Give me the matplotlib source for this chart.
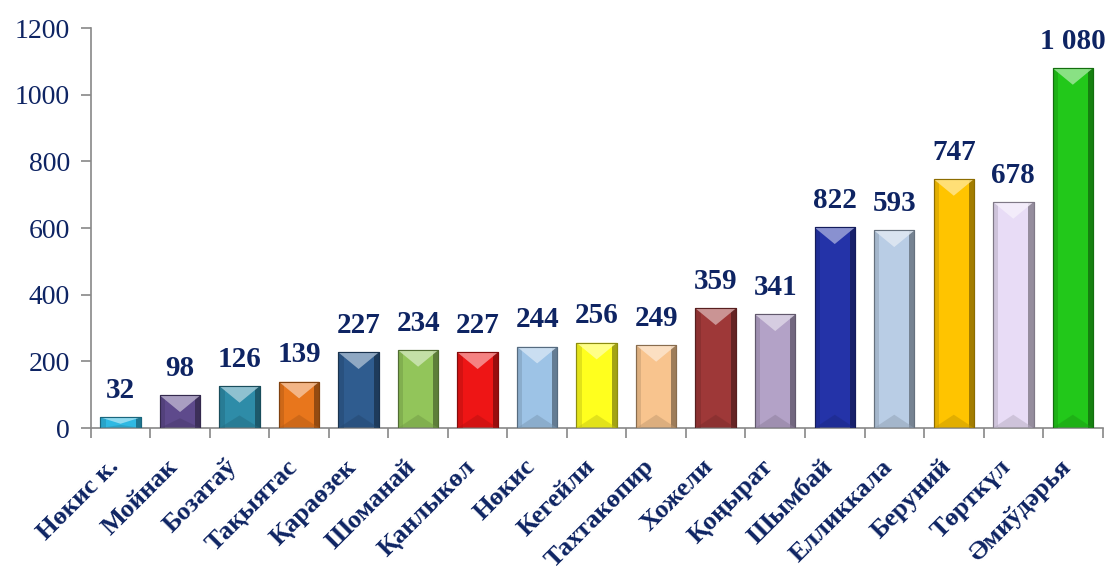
import matplotlib
matplotlib.use("Agg")
import matplotlib.pyplot as plt
import matplotlib.colors as mcolors
import matplotlib.transforms as mtransforms
from matplotlib.patches import Polygon
import numpy as np

categories = ["Нөкис к.", "Мойнак", "Бозатаў", "Тақыятас", "Қараөзек", "Шоманай",
              "Қанлыкөл", "Нөкис", "Кегейли", "Тахтакөпир", "Хожели", "Қоңырат",
              "Шымбай", "Елликкала", "Беруний", "Төрткүл", "Әмиўдәрья"]
heights = [32, 98, 126, 139, 227, 234, 227, 244, 256, 249, 359, 341, 602, 593, 747, 678, 1080]
value_labels = ["32", "98", "126", "139", "227", "234", "227", "244", "256", "249", "359",
                "341", "822", "593", "747", "678", "1 080"]
colors = ["#2FB9E3", "#5E4A8C", "#2E8CA8", "#E8761C", "#2F5C8F", "#92C55A", "#EE1515",
          "#9DC3E6", "#FFFF1E", "#F8C48E", "#9E3838", "#B3A2C7", "#2433A8", "#B9CDE5",
          "#FFC400", "#E8DCF6", "#22C81A"]

navy = "#0E2463"
plt.rcParams['font.family'] = ['Liberation Serif', 'DejaVu Serif']

fig = plt.figure(figsize=(11.07, 5.73), dpi=100)
ax = fig.add_axes([0.082, 0.253, 0.914, 0.698])

x = np.arange(len(categories))
w = 0.68
for xi, h, c in zip(x, heights, colors):
    base = np.array(mcolors.to_rgb(c))
    dark = base * 0.55
    mid_dark = base * 0.78
    light = 1 - (1 - base) * 0.45
    # main body
    ax.bar(xi, h, width=w, color=base, edgecolor=dark, linewidth=0.8, zorder=2)
    # side shading
    s = w * 0.13
    ax.bar(xi - w / 2 + s / 2, h, width=s, color=mid_dark, alpha=0.5, linewidth=0, zorder=3)
    ax.bar(xi + w / 2 - s / 2, h, width=s, color=dark, alpha=0.8, linewidth=0, zorder=3)
    # top bevel (lighter V) and bottom bevel (darker)
    d = min(50, h * 0.6)
    ax.add_patch(Polygon([(xi - w / 2, h), (xi + w / 2, h), (xi, h - d)],
                         closed=True, facecolor=light, edgecolor='none', alpha=0.85, zorder=4))
    db = min(40, h * 0.3)
    ax.add_patch(Polygon([(xi - w / 2, 0), (xi + w / 2, 0), (xi, db)],
                         closed=True, facecolor=mid_dark, edgecolor='none', alpha=0.5, zorder=4))
    ax.bar(xi, h, width=w, color='none', edgecolor=dark, linewidth=0.8, zorder=5)

for xi, h, lab in zip(x, heights, value_labels):
    ax.text(xi, h + 40, lab, ha='center', va='bottom', fontsize=21, fontweight='bold', color=navy)

ax.set_xlim(-0.5, len(categories) - 0.5)
ax.set_ylim(0, 1200)
ax.set_yticks(np.arange(0, 1201, 200))
ax.tick_params(axis='y', labelsize=20, labelcolor=navy, color='#888888', length=7, width=1.2, pad=8)
ax.set_xticks(x)
ax.set_xticklabels(categories, rotation=45, ha='right', rotation_mode='anchor',
                   fontsize=19, fontweight='bold', color=navy)
ax.tick_params(axis='x', which='major', length=0, pad=18)
offset = mtransforms.ScaledTranslation(-14 / 100, -2 / 100, fig.dpi_scale_trans)
for lbl in ax.get_xticklabels():
    lbl.set_transform(lbl.get_transform() + offset)
ax.set_xticks(np.arange(-0.5, len(categories), 1), minor=True)
ax.tick_params(axis='x', which='minor', length=7, width=1.2, color='#888888', direction='out')

for s_ in ['top', 'right']:
    ax.spines[s_].set_visible(False)
for s_ in ['left', 'bottom']:
    ax.spines[s_].set_color('#888888')
    ax.spines[s_].set_linewidth(1.2)

fig.savefig("out.png", dpi=100)
